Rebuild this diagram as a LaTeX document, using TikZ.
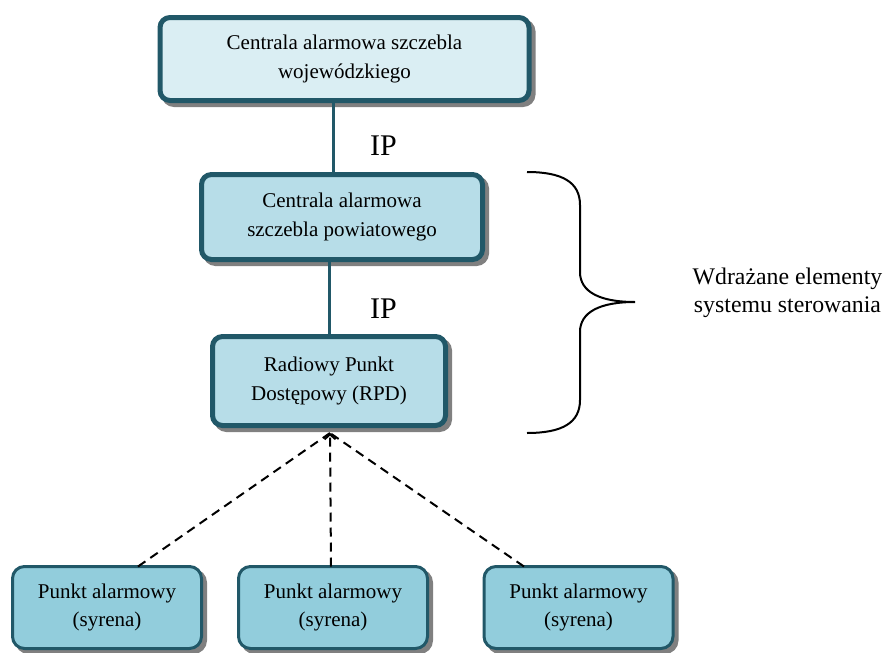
\documentclass[tikz,border=0pt]{standalone}
\usepackage{fontspec}
\setmainfont{Liberation Serif}
\usetikzlibrary{shadows,arrows.meta}
\definecolor{tealborder}{HTML}{215868}
\definecolor{fillA}{HTML}{DAEEF3}
\definecolor{fillB}{HTML}{B7DDE8}
\definecolor{fillC}{HTML}{92CDDC}
\definecolor{shadowgray}{HTML}{808080}
\tikzset{
  bigbox/.style={draw=tealborder, line width=5pt, rounded corners=10pt,
    align=center, inner sep=0pt, font=\fontsize{21}{28.5}\selectfont,
    general shadow={fill=shadowgray, draw=shadowgray, line width=5pt,
      shadow xshift=4pt, shadow yshift=-4pt}},
  smallbox/.style={draw=tealborder, line width=3pt, rounded corners=12pt,
    fill=fillC, align=center, inner sep=0pt, font=\fontsize{21}{28}\selectfont,
    minimum width=189pt, minimum height=82pt,
    general shadow={fill=shadowgray, draw=shadowgray, line width=3pt,
      shadow xshift=4pt, shadow yshift=-4pt}},
  ipline/.style={draw=tealborder, line width=3pt},
  iplabel/.style={anchor=base, inner sep=0pt, font=\fontsize{30}{30}\selectfont},
  radioline/.style={draw=black, line width=2pt, dash pattern=on 9pt off 6pt},
  bracepath/.style={draw=black, line width=2pt}
}
\begin{document}
\begin{tikzpicture}[x=1pt,y=-1pt]
\useasboundingbox (0,0) rectangle (887,653);
% main boxes
\node[bigbox, fill=fillA, minimum width=369pt, minimum height=83pt] (woj) at (344.5,59)
  {Centrala alarmowa szczebla\\wojewódzkiego};
\node[bigbox, fill=fillB, minimum width=281pt, minimum height=85pt] (pow) at (342,217)
  {Centrala alarmowa\\szczebla powiatowego};
\node[bigbox, fill=fillB, minimum width=233pt, minimum height=89pt] (rpd) at (329,381)
  {Radiowy Punkt\\Dostępowy (RPD)};
% sirens
\node[smallbox] (pa) at (107,607.5) {Punkt alarmowy\\(syrena)};
\node[smallbox] (pb) at (333,607.5) {Punkt alarmowy\\(syrena)};
\node[smallbox] (pc) at (578.5,607.5) {Punkt alarmowy\\(syrena)};
% IP connectors
\draw[ipline] ([xshift=-11.5pt,yshift=2pt]woj.south) -- ([xshift=-9pt,yshift=-2pt]pow.north);
\draw[ipline] ([xshift=-13pt,yshift=2pt]pow.south) -- ([yshift=-2pt]rpd.north);
\node[iplabel] (ip1) at (383.5,155) {IP};
\node[iplabel] (ip2) at (383.5,318) {IP};
% radio links
\coordinate (apex) at (330,433);
\draw[radioline] ([xshift=31pt,yshift=-1.5pt]pa.north) -- (apex);
\draw[radioline, -{Straight Barb[length=5pt,width=11pt,line width=2pt]}] ([xshift=-2pt,yshift=-1.5pt]pb.north) -- (apex);
\draw[radioline] ([xshift=-54.5pt,yshift=-1.5pt]pc.north) -- (apex);
% brace
\coordinate (btop) at (527,172);
\coordinate (btip) at (635,302);
\coordinate (bbot) at (527,433);
\draw[bracepath] (btop) .. controls (562,172) and (580,182) .. (580,205)
  -- (580,272) .. controls (580,292) and (600,302) .. (btip)
  .. controls (600,302) and (580,312) .. (580,332)
  -- (580,400) .. controls (580,423) and (562,433) .. (bbot);
\node[align=center, inner sep=0pt, anchor=base, font=\fontsize{23.8}{28}\selectfont] (lbl) at (787.5,312)
  {Wdrażane elementy\\systemu sterowania};
\end{tikzpicture}
\end{document}
